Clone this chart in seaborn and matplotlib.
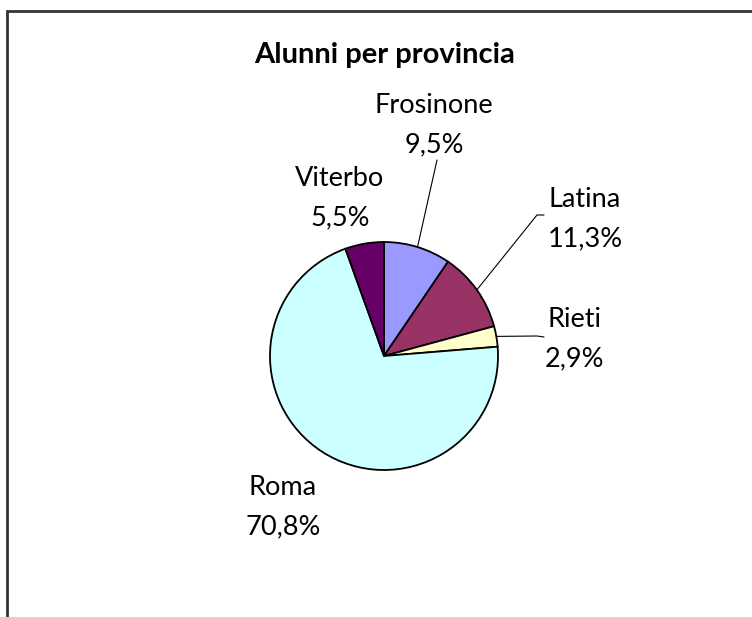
import matplotlib
matplotlib.use("Agg")
import matplotlib.pyplot as plt
import seaborn as sns
import numpy as np

sns.set_theme(style="white")
plt.rcParams['font.family'] = ['Lato', 'DejaVu Sans']

# Data
provinces = ["Frosinone", "Latina", "Rieti", "Roma", "Viterbo"]
shares = [9.5, 11.3, 2.9, 70.8, 5.5]
pct_labels = ["9,5%", "11,3%", "2,9%", "70,8%", "5,5%"]
colors = ["#9999FF", "#993366", "#FFFFCC", "#CCFFFF", "#660066"]
title = "Alunni per provincia"

W, H = 752, 617
fig = plt.figure(figsize=(W / 100, H / 100), dpi=100)
ax = fig.add_axes([0, 0, 1, 1])

cx, cy, R = 384, H - 356, 114
wedges, _ = ax.pie(shares, colors=colors, startangle=90, counterclock=False,
                   center=(cx, cy), radius=R,
                   wedgeprops=dict(edgecolor="black", linewidth=1.3))
ax.set_xlim(0, W)
ax.set_ylim(0, H)
ax.set_aspect("equal")
ax.axis("off")

# label layout (baseline positions of name line, in pixels from top)
label_pos = {
    "Frosinone": (434, 113),
    "Latina": (585, 207),
    "Rieti": (575, 327),
    "Roma": (283, 495),
    "Viterbo": (340, 186),
}
line_gap = 39
fs = 19.5
for name, pct in zip(provinces, pct_labels):
    x, yb = label_pos[name]
    ax.text(x, H - yb, name, ha="center", va="baseline", fontsize=fs, color="black")
    ax.text(x, H - yb - line_gap, pct, ha="center", va="baseline", fontsize=fs, color="black")

# leader lines
theta = 90.0
mids = {}
for name, s in zip(provinces, shares):
    mids[name] = theta - s / 100 * 360 / 2
    theta -= s / 100 * 360
leaders = {
    "Frosinone": [(437, 160)],
    "Latina": [(537, 215), (544, 215)],
    "Rieti": [(537, 336), (544, 337)],
}
for name, pts in leaders.items():
    a = np.deg2rad(mids[name])
    x0, y0 = cx + R * np.cos(a), cy + R * np.sin(a)
    xs = [x0] + [p[0] for p in pts]
    ys = [y0] + [H - p[1] for p in pts]
    ax.plot(xs, ys, color="black", linewidth=0.8)

ax.text(385, H - 63, title, ha="center", va="baseline", fontsize=21,
        fontweight="bold", color="black")

# frame (left and top)
ax.plot([7, 7, W + 5], [-5, H - 11, H - 11], color="#333333", linewidth=2,
        solid_joinstyle="miter", clip_on=False)

fig.savefig("out.png", dpi=100, facecolor="white")
